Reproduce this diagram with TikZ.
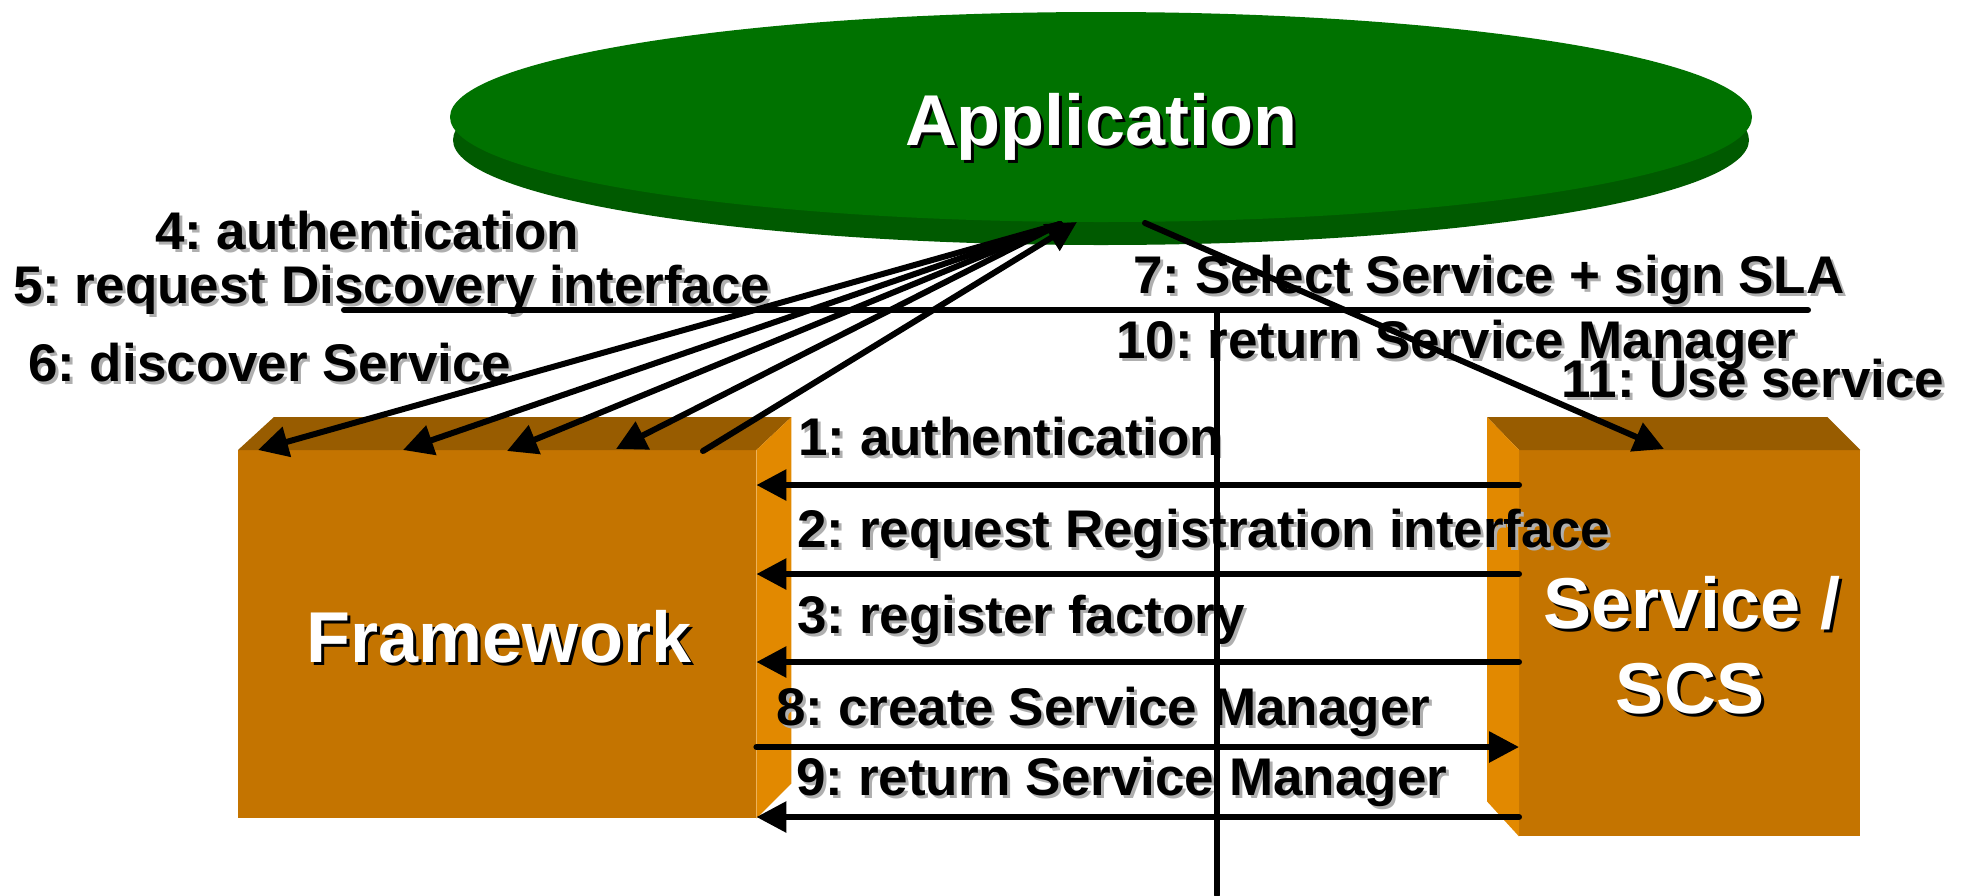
\documentclass[tikz,border=0pt]{standalone}
\usepackage{fontspec}
\setmainfont{Liberation Sans}
\usetikzlibrary{arrows.meta,shapes.geometric,calc}
\definecolor{appgreen}{RGB}{0,114,0}
\definecolor{apprim}{RGB}{0,90,0}
\definecolor{boxfront}{RGB}{196,116,0}
\definecolor{boxtop}{RGB}{152,92,0}
\definecolor{boxside}{RGB}{226,137,0}
\definecolor{shadowgray}{RGB}{175,175,175}
\frenchspacing
\newcommand{\shlabel}[4]{%
  \node[lblshadow] (#1s) at (#2+3,#3+3) {#4};
  \node[lbl] (#1) at (#2,#3) {#4};}
\newcommand{\biglabel}[4]{%
  \node[bigshadow] (#1s) at (#2+3,#3+3) {#4};
  \node[big] (#1) at (#2,#3) {#4};}
\begin{document}
\begin{tikzpicture}[x=1pt,y=-1pt,
  lbl/.style={anchor=base west,inner sep=0pt,font=\fontsize{53}{60}\selectfont\bfseries,text=black},
  lblshadow/.style={lbl,text=shadowgray},
  big/.style={anchor=base,inner sep=0pt,font=\fontsize{72}{85}\selectfont\bfseries,text=white},
  bigshadow/.style={big,text=black},
  face/.style={draw=none,inner sep=0pt,anchor=north west},
  conn/.style={line width=6pt,line cap=round},
  arr/.style={conn,-{Triangle[length=30pt,width=30pt]}},
]
\useasboundingbox (0,0) rectangle (1962,895);
\fill[white] (0,0) rectangle (1962,895);

% Application ellipse (rim + top face)
\fill[apprim] (1101,140) ellipse [x radius=648, y radius=105];
\node[ellipse,fill=appgreen,draw=none,minimum width=1302,minimum height=210,inner sep=0pt] (app) at (1101,117) {};

% Framework box
\node[face,fill=boxfront,minimum width=518,minimum height=368] (fw) at (238,450) {};
\fill[boxtop] (fw.north west) -- ++(36,-33) -- ($(fw.north east)+(35,-33)$) -- (fw.north east) -- cycle;
\fill[boxside] (fw.north east) -- ++(35,-33) -- ($(fw.south east)+(35,-35)$) -- (fw.south east) -- cycle;

% Service / SCS box
\node[face,fill=boxfront,minimum width=341,minimum height=386] (svc) at (1519,450) {};
\fill[boxtop] (svc.north west) -- ++(-32,-33) -- ($(svc.north east)+(-33,-33)$) -- (svc.north east) -- cycle;
\fill[boxside] (svc.north west) -- ++(-32,-33) -- ($(svc.south west)+(-32,-35)$) -- (svc.south west) -- cycle;

% big white titles
\biglabel{tapp}{1101}{145}{Application}
\biglabel{tfw}{499}{662}{Framework}
\biglabel{tsvc}{1692}{628}{Service /}
\biglabel{tscs}{1690}{713}{SCS}

% message labels
\shlabel{l4}{155}{249}{4: authentication}
\shlabel{l5}{13}{303}{5: request Discovery interface}
\shlabel{l6}{28}{381}{6: discover Service}
\shlabel{l7}{1133}{293}{7: Select Service + sign SLA}
\shlabel{l10}{1116}{358}{10: return Service Manager}
\shlabel{l11}{1561}{397}{11: Use service}
\shlabel{l1}{798}{455}{1: authentication}
\shlabel{l2}{797}{547}{2: request Registration interface}
\shlabel{l3}{797}{633}{3: register factory}
\shlabel{l8}{776}{725}{8: create Service Manager}
\shlabel{l9}{796}{795}{9: return Service Manager}

% coordinates
\coordinate (hA) at (344,310);
\coordinate (hB) at (1808,310);
\coordinate (vA) at (1217,310);
\coordinate (vB) at (1217,895);
\coordinate (ap) at (1060,224);
\coordinate (ap5) at (1077,222);
\coordinate (ap11) at (1145,223);
\coordinate (t1) at (258,450);
\coordinate (t2) at (403,450);
\coordinate (t3) at (507,451);
\coordinate (t4) at (616,449);
\coordinate (t5) at (703,451);
\coordinate (t11) at (1664,449);
\coordinate (r1) at (0,485);
\coordinate (r2) at (0,574);
\coordinate (r3) at (0,662);
\coordinate (r8) at (0,747);
\coordinate (r9) at (0,817);

% connectors
\draw[conn] (hA) -- (hB);
\draw[conn] (vA) -- (vB);
\draw[arr] (ap) -- (t1);
\draw[arr] (ap) -- (t2);
\draw[arr] (ap) -- (t3);
\draw[arr] (ap) -- (t4);
\draw[arr] (t5) -- (ap5);
\draw[arr] (ap11) -- (t11);
\draw[arr] (svc.west |- r1) -- (fw.east |- r1);
\draw[arr] (svc.west |- r2) -- (fw.east |- r2);
\draw[arr] (svc.west |- r3) -- (fw.east |- r3);
\draw[arr] (fw.east |- r8) -- (svc.west |- r8);
\draw[arr] (svc.west |- r9) -- (fw.east |- r9);
\end{tikzpicture}
\end{document}
